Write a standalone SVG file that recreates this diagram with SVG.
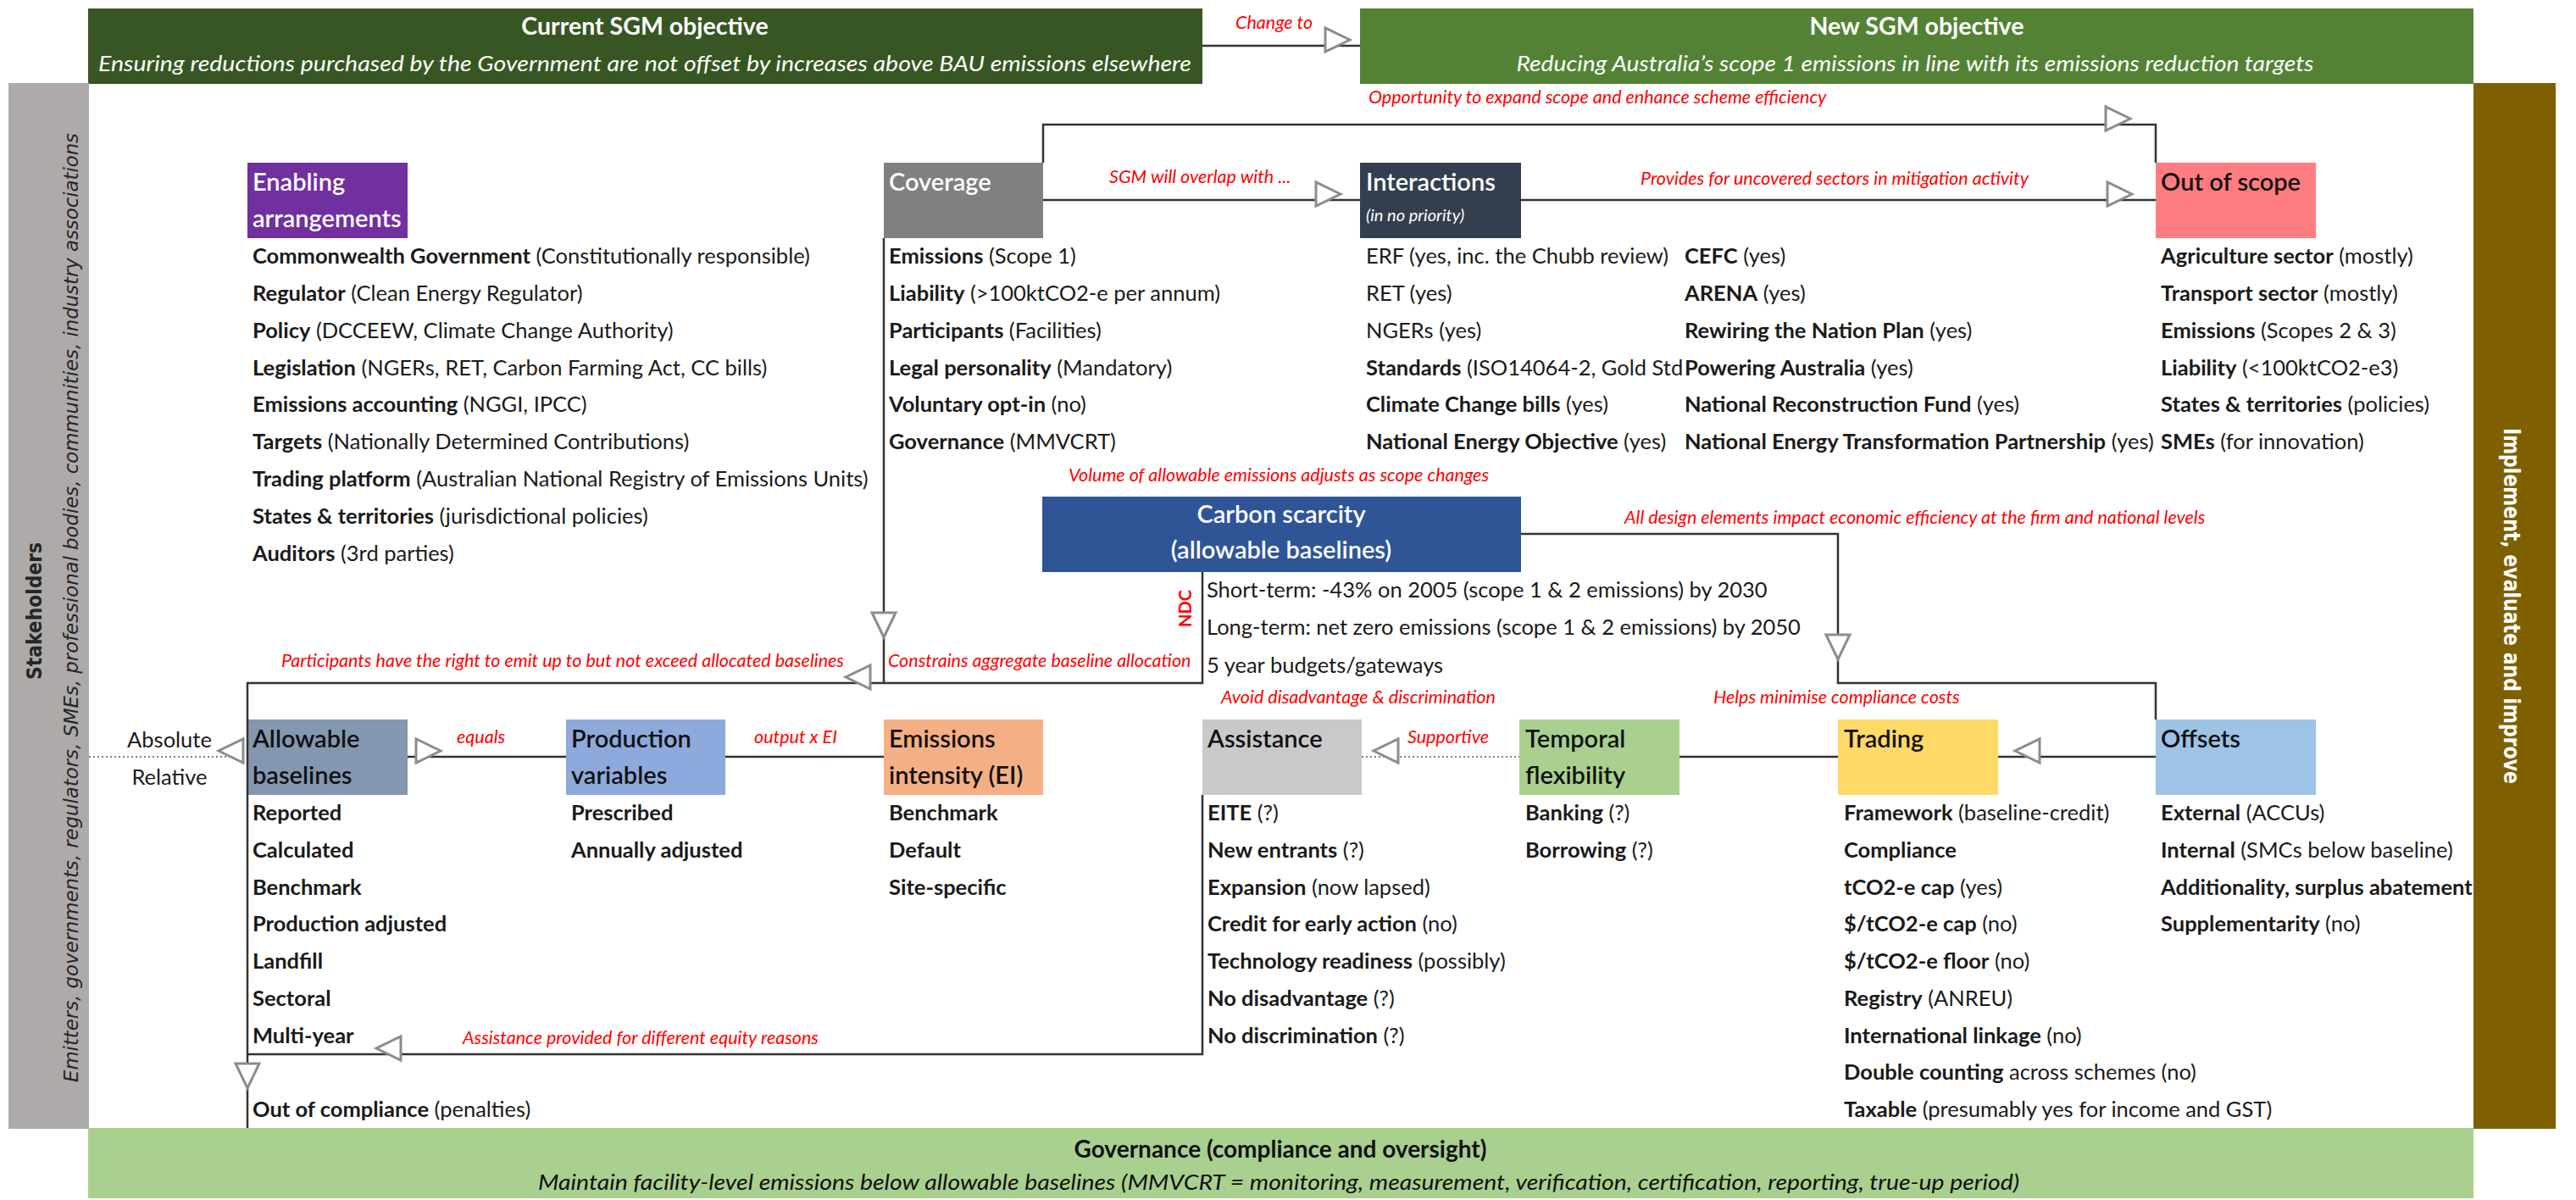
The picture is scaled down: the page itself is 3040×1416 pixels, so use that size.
<svg xmlns="http://www.w3.org/2000/svg" width="3040" height="1416" viewBox="0 0 3040 1416">
<style>
text { font-family: Lato, "Liberation Sans", sans-serif; }
.it { font-size: 25.5px; fill: #1a1a1a; }
.b { font-weight: 700; }
.ttl { font-size: 29px; font-weight: 600; fill: #111; }
.w { fill: #ffffff; }
.lbl { font-size: 21.5px; font-style: italic; fill: #ff0000; }
.conn { fill: none; stroke: #333333; stroke-width: 2.5; }
.dot { fill: none; stroke: #808080; stroke-width: 2; stroke-dasharray: 2 3; }
.ah { fill: #ffffff; stroke: #8c8c8c; stroke-width: 3; }
.side { font-family: "DejaVu Sans", Verdana, sans-serif; }
</style>
<defs>
<path id="ar" d="M0,0 L-29,-14 L-29,14 Z"/>
</defs>
<rect x="0" y="0" width="3040" height="1416" fill="#ffffff"/>

<g id="current-objective">
<rect x="104" y="10" width="1315" height="89" fill="#375623"/>
<text x="761" y="41" text-anchor="middle" class="w b" font-size="28.5">Current SGM objective</text>
<text x="761" y="84" text-anchor="middle" class="w" font-size="25" font-style="italic" textLength="1290" lengthAdjust="spacingAndGlyphs">Ensuring reductions purchased by the Government are not offset by increases above BAU emissions elsewhere</text>
</g>
<g id="new-objective">
<rect x="1605" y="10" width="1314" height="89" fill="#548235"/>
<text x="2262" y="41" text-anchor="middle" class="w b" font-size="28.5">New SGM objective</text>
<text x="2260" y="84" text-anchor="middle" class="w" font-size="25" font-style="italic" textLength="941" lengthAdjust="spacingAndGlyphs">Reducing Australia’s scope 1 emissions in line with its emissions reduction targets</text>
</g>

<g id="stakeholders">
<rect x="10" y="98" width="95" height="1234" fill="#aeaaaa"/>
<text class="side" transform="translate(49,721) rotate(-90)" text-anchor="middle" font-size="24" font-weight="700" fill="#262626" textLength="162" lengthAdjust="spacingAndGlyphs">Stakeholders</text>
<text class="side" transform="translate(92,717) rotate(-90)" text-anchor="middle" font-size="23" font-style="italic" fill="#262626" textLength="1120" lengthAdjust="spacingAndGlyphs">Emitters, governments, regulators, SMEs, professional bodies, communities, industry associations</text>
</g>

<g id="implement">
<rect x="2919" y="98" width="97" height="1234" fill="#7f6000"/>
<text class="side" transform="translate(2955,715) rotate(90)" text-anchor="middle" font-size="26" font-weight="700" fill="#ffffff" textLength="420" lengthAdjust="spacingAndGlyphs">Implement, evaluate and improve</text>
</g>

<g id="governance">
<rect x="104" y="1331" width="2815" height="83" fill="#a9d08e"/>
<text x="1511" y="1366" text-anchor="middle" class="b" font-size="28" fill="#111">Governance (compliance and oversight)</text>
<text x="1509" y="1404" text-anchor="middle" font-size="25" font-style="italic" fill="#111" textLength="1748" lengthAdjust="spacingAndGlyphs">Maintain facility-level emissions below allowable baselines (MMVCRT = monitoring, measurement, verification, certification, reporting, true-up period)</text>
</g>

<g id="enabling-arrangements">
<rect x="292" y="192" width="189" height="89" fill="#7030a0"/>
<text x="298" y="225" class="ttl w">Enabling</text>
<text x="298" y="268" class="ttl w">arrangements</text>
<text x="298" y="311" class="it"><tspan class="b">Commonwealth Government</tspan> (Constitutionally responsible)</text>
<text x="298" y="355" class="it"><tspan class="b">Regulator</tspan> (Clean Energy Regulator)</text>
<text x="298" y="399" class="it"><tspan class="b">Policy</tspan> (DCCEEW, Climate Change Authority)</text>
<text x="298" y="443" class="it"><tspan class="b">Legislation</tspan> (NGERs, RET, Carbon Farming Act, CC bills)</text>
<text x="298" y="486" class="it"><tspan class="b">Emissions accounting</tspan> (NGGI, IPCC)</text>
<text x="298" y="530" class="it"><tspan class="b">Targets</tspan> (Nationally Determined Contributions)</text>
<text x="298" y="574" class="it"><tspan class="b">Trading platform</tspan> (Australian National Registry of Emissions Units)</text>
<text x="298" y="618" class="it"><tspan class="b">States &amp; territories</tspan> (jurisdictional policies)</text>
<text x="298" y="662" class="it"><tspan class="b">Auditors</tspan> (3rd parties)</text>
</g>

<g id="coverage">
<rect x="1043" y="192" width="188" height="89" fill="#808080"/>
<text x="1049" y="225" class="ttl w">Coverage</text>
<text x="1049" y="311" class="it"><tspan class="b">Emissions</tspan> (Scope 1)</text>
<text x="1049" y="355" class="it"><tspan class="b">Liability</tspan> (&gt;100ktCO2-e per annum)</text>
<text x="1049" y="399" class="it"><tspan class="b">Participants</tspan> (Facilities)</text>
<text x="1049" y="443" class="it"><tspan class="b">Legal personality</tspan> (Mandatory)</text>
<text x="1049" y="486" class="it"><tspan class="b">Voluntary opt-in</tspan> (no)</text>
<text x="1049" y="530" class="it"><tspan class="b">Governance</tspan> (MMVCRT)</text>
</g>

<g id="interactions">
<rect x="1605" y="192" width="190" height="89" fill="#333f4f"/>
<text x="1612" y="225" class="ttl w">Interactions</text>
<text x="1612" y="261" class="w" font-size="20" font-style="italic">(in no priority)</text>
<text x="1612" y="311" class="it">ERF (yes, inc. the Chubb review)</text>
<text x="1612" y="355" class="it">RET (yes)</text>
<text x="1612" y="399" class="it">NGERs (yes)</text>
<text x="1612" y="443" class="it"><tspan class="b">Standards</tspan> (ISO14064-2, Gold Std</text>
<text x="1612" y="486" class="it"><tspan class="b">Climate Change bills</tspan> (yes)</text>
<text x="1612" y="530" class="it"><tspan class="b">National Energy Objective</tspan> (yes)</text>
<text x="1988" y="311" class="it"><tspan class="b">CEFC</tspan> (yes)</text>
<text x="1988" y="355" class="it"><tspan class="b">ARENA</tspan> (yes)</text>
<text x="1988" y="399" class="it"><tspan class="b">Rewiring the Nation Plan</tspan> (yes)</text>
<text x="1988" y="443" class="it"><tspan class="b">Powering Australia</tspan> (yes)</text>
<text x="1988" y="486" class="it"><tspan class="b">National Reconstruction Fund</tspan> (yes)</text>
<text x="1988" y="530" class="it"><tspan class="b">National Energy Transformation Partnership</tspan> (yes)</text>
</g>

<g id="out-of-scope">
<rect x="2544" y="192" width="189" height="89" fill="#ff7c80"/>
<text x="2550" y="225" class="ttl">Out of scope</text>
<text x="2550" y="311" class="it"><tspan class="b">Agriculture sector</tspan> (mostly)</text>
<text x="2550" y="355" class="it"><tspan class="b">Transport sector</tspan> (mostly)</text>
<text x="2550" y="399" class="it"><tspan class="b">Emissions</tspan> (Scopes 2 &amp; 3)</text>
<text x="2550" y="443" class="it"><tspan class="b">Liability</tspan> (&lt;100ktCO2-e3)</text>
<text x="2550" y="486" class="it"><tspan class="b">States &amp; territories</tspan> (policies)</text>
<text x="2550" y="530" class="it"><tspan class="b">SMEs</tspan> (for innovation)</text>
</g>

<g id="carbon-scarcity">
<rect x="1230" y="586" width="565" height="89" fill="#2f5597"/>
<text x="1512" y="617" text-anchor="middle" class="ttl w">Carbon scarcity</text>
<text x="1512" y="659" text-anchor="middle" class="ttl w">(allowable baselines)</text>
<text x="1424" y="705" class="it">Short-term: -43% on 2005 (scope 1 &amp; 2 emissions) by 2030</text>
<text x="1424" y="749" class="it">Long-term: net zero emissions (scope 1 &amp; 2 emissions) by 2050</text>
<text x="1424" y="794" class="it">5 year budgets/gateways</text>
</g>

<g id="allowable-baselines">
<rect x="292" y="849" width="189" height="89" fill="#8497b0"/>
<text x="298" y="882" class="ttl">Allowable</text>
<text x="298" y="925" class="ttl">baselines</text>
<text x="298" y="968" class="it b">Reported</text>
<text x="298" y="1012" class="it b">Calculated</text>
<text x="298" y="1056" class="it b">Benchmark</text>
<text x="298" y="1099" class="it b">Production adjusted</text>
<text x="298" y="1143" class="it b">Landfill</text>
<text x="298" y="1187" class="it b">Sectoral</text>
<text x="298" y="1231" class="it b">Multi-year</text>
<text x="298" y="1318" class="it"><tspan class="b">Out of compliance</tspan> (penalties)</text>
</g>

<g id="absolute-relative">
<text x="200" y="882" text-anchor="middle" class="it">Absolute</text>
<text x="200" y="926" text-anchor="middle" class="it">Relative</text>
</g>

<g id="production-variables">
<rect x="668" y="849" width="188" height="89" fill="#8ea9db"/>
<text x="674" y="882" class="ttl">Production</text>
<text x="674" y="925" class="ttl">variables</text>
<text x="674" y="968" class="it b">Prescribed</text>
<text x="674" y="1012" class="it b">Annually adjusted</text>
</g>

<g id="emissions-intensity">
<rect x="1043" y="849" width="188" height="89" fill="#f4b084"/>
<text x="1049" y="882" class="ttl">Emissions</text>
<text x="1049" y="925" class="ttl">intensity (EI)</text>
<text x="1049" y="968" class="it b">Benchmark</text>
<text x="1049" y="1012" class="it b">Default</text>
<text x="1049" y="1056" class="it b">Site-specific</text>
</g>

<g id="assistance">
<rect x="1419" y="849" width="188" height="89" fill="#c9c9c9"/>
<text x="1425" y="882" class="ttl">Assistance</text>
<text x="1425" y="968" class="it"><tspan class="b">EITE</tspan> (?)</text>
<text x="1425" y="1012" class="it"><tspan class="b">New entrants</tspan> (?)</text>
<text x="1425" y="1056" class="it"><tspan class="b">Expansion</tspan> (now lapsed)</text>
<text x="1425" y="1099" class="it"><tspan class="b">Credit for early action</tspan> (no)</text>
<text x="1425" y="1143" class="it"><tspan class="b">Technology readiness</tspan> (possibly)</text>
<text x="1425" y="1187" class="it"><tspan class="b">No disadvantage</tspan> (?)</text>
<text x="1425" y="1231" class="it"><tspan class="b">No discrimination</tspan> (?)</text>
</g>

<g id="temporal-flexibility">
<rect x="1793" y="849" width="189" height="89" fill="#a9d08e"/>
<text x="1800" y="882" class="ttl">Temporal</text>
<text x="1800" y="925" class="ttl">flexibility</text>
<text x="1800" y="968" class="it"><tspan class="b">Banking</tspan> (?)</text>
<text x="1800" y="1012" class="it"><tspan class="b">Borrowing</tspan> (?)</text>
</g>

<g id="trading">
<rect x="2169" y="849" width="189" height="89" fill="#ffd966"/>
<text x="2176" y="882" class="ttl">Trading</text>
<text x="2176" y="968" class="it"><tspan class="b">Framework</tspan> (baseline-credit)</text>
<text x="2176" y="1012" class="it b">Compliance</text>
<text x="2176" y="1056" class="it"><tspan class="b">tCO2-e cap</tspan> (yes)</text>
<text x="2176" y="1099" class="it"><tspan class="b">$/tCO2-e cap</tspan> (no)</text>
<text x="2176" y="1143" class="it"><tspan class="b">$/tCO2-e floor</tspan> (no)</text>
<text x="2176" y="1187" class="it"><tspan class="b">Registry</tspan> (ANREU)</text>
<text x="2176" y="1231" class="it"><tspan class="b">International linkage</tspan> (no)</text>
<text x="2176" y="1274" class="it"><tspan class="b">Double counting</tspan> across schemes (no)</text>
<text x="2176" y="1318" class="it"><tspan class="b">Taxable</tspan> (presumably yes for income and GST)</text>
</g>

<g id="offsets">
<rect x="2544" y="849" width="189" height="89" fill="#9dc3e6"/>
<text x="2550" y="882" class="ttl">Offsets</text>
<text x="2550" y="968" class="it"><tspan class="b">External</tspan> (ACCUs)</text>
<text x="2550" y="1012" class="it"><tspan class="b">Internal</tspan> (SMCs below baseline)</text>
<text x="2550" y="1056" class="it b">Additionality, surplus abatement</text>
<text x="2550" y="1099" class="it"><tspan class="b">Supplementarity</tspan> (no)</text>
</g>

<g id="connectors">
<path class="conn" d="M1419,54 H1605"/>
<path class="conn" d="M1231,192 V147 H2544 V192"/>
<path class="conn" d="M1231,236 H1605"/>
<path class="conn" d="M1795,236 H2544"/>
<path class="conn" d="M1043,281 V806"/>
<path class="conn" d="M1419,675 V806 H292 V1331"/>
<path class="conn" d="M1795,630 H2169 V806 H2544 V849"/>
<path class="dot" d="M105,893 H287"/>
<path class="conn" d="M481,893 H668"/>
<path class="conn" d="M856,893 H1043"/>
<path class="dot" d="M1607,893 H1793"/>
<path class="conn" d="M1982,893 H2169"/>
<path class="conn" d="M2358,893 H2544"/>
<path class="conn" d="M1419,938 V1244 H292"/>
<use href="#ar" class="ah" transform="translate(1593,47)"/>
<use href="#ar" class="ah" transform="translate(2514,140)"/>
<use href="#ar" class="ah" transform="translate(1582,229)"/>
<use href="#ar" class="ah" transform="translate(2516,229)"/>
<use href="#ar" class="ah" transform="translate(1043,752) rotate(90)"/>
<use href="#ar" class="ah" transform="translate(998,799) rotate(180)"/>
<use href="#ar" class="ah" transform="translate(2169,778) rotate(90)"/>
<use href="#ar" class="ah" transform="translate(258,886) rotate(180)"/>
<use href="#ar" class="ah" transform="translate(520,886)"/>
<use href="#ar" class="ah" transform="translate(1621,886) rotate(180)"/>
<use href="#ar" class="ah" transform="translate(2378,886) rotate(180)"/>
<use href="#ar" class="ah" transform="translate(444,1237) rotate(180)"/>
<use href="#ar" class="ah" transform="translate(292,1284) rotate(90)"/>
<text x="1458" y="34" class="lbl">Change to</text>
<text x="1615" y="122" class="lbl">Opportunity to expand scope and enhance scheme efficiency</text>
<text x="1309" y="216" class="lbl">SGM will overlap with ...</text>
<text x="1936" y="218" class="lbl">Provides for uncovered sectors in mitigation activity</text>
<text x="1261" y="568" class="lbl">Volume of allowable emissions adjusts as scope changes</text>
<text x="1917" y="618" class="lbl">All design elements impact economic efficiency at the firm and national levels</text>
<text transform="translate(1406,718) rotate(-90)" text-anchor="middle" font-size="20" font-weight="700" fill="#ff0000">NDC</text>
<text x="332" y="787" class="lbl">Participants have the right to emit up to but not exceed allocated baselines</text>
<text x="1048" y="787" class="lbl">Constrains aggregate baseline allocation</text>
<text x="1441" y="830" class="lbl">Avoid disadvantage &amp; discrimination</text>
<text x="2022" y="830" class="lbl">Helps minimise compliance costs</text>
<text x="539" y="877" class="lbl">equals</text>
<text x="890" y="877" class="lbl">output x EI</text>
<text x="1661" y="877" class="lbl">Supportive</text>
<text x="546" y="1232" class="lbl">Assistance provided for different equity reasons</text>
</g>
</svg>
